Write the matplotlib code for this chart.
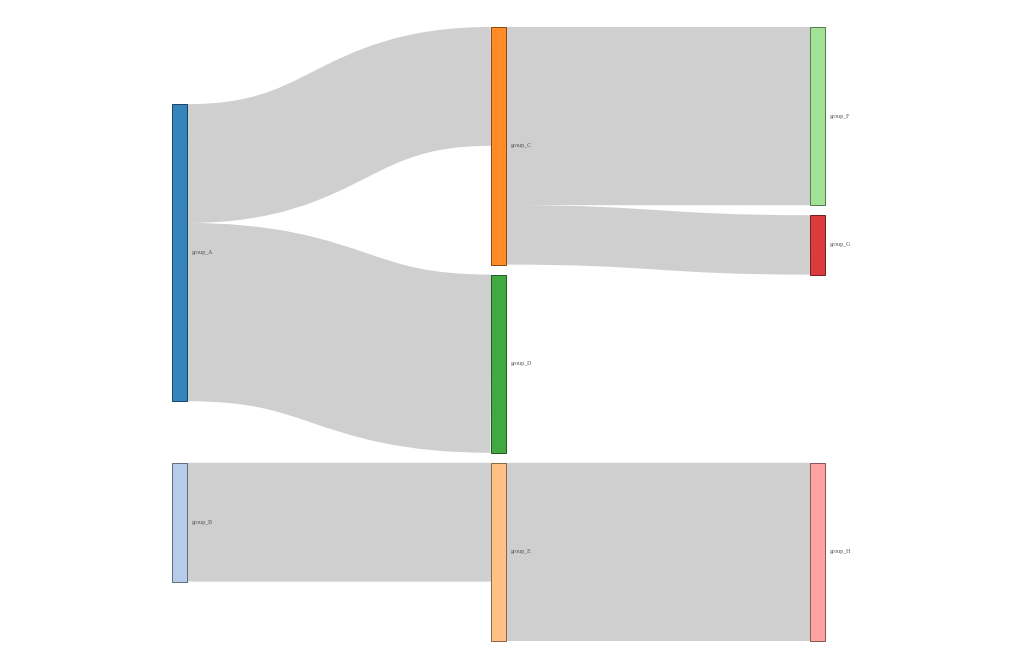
import matplotlib
matplotlib.use("Agg")
import matplotlib.pyplot as plt
from matplotlib.path import Path
from matplotlib.patches import PathPatch, Rectangle
from matplotlib.colors import to_rgb

# ---------------- data ----------------
link_sources = ["group_A", "group_A", "group_B", "group_C", "group_C", "group_E"]
link_targets = ["group_C", "group_D", "group_E", "group_F", "group_G", "group_H"]
link_values = [2, 3, 2, 3, 1, 3]
node_names = list(dict.fromkeys(link_sources + link_targets))  # A, B, C, E, D, F, G, H
palette = ["#1f77b4", "#aec7e8", "#ff7f0e", "#ffbb78", "#2ca02c", "#98df8a",
           "#d62728", "#ff9896", "#9467bd", "#c5b0d5"]

# ---------------- sankey layout (port of d3-sankey) ----------------
X0, Y0, X1, Y1 = 172, 27, 825, 641
NODE_W = 15
PAD = 10
ITER = 32

nodes = [dict(name=n, index=i, color=palette[i], sourceLinks=[], targetLinks=[])
         for i, n in enumerate(node_names)]
by_name = {n["name"]: n for n in nodes}
links = []
for i, (s, t, v) in enumerate(zip(link_sources, link_targets, link_values)):
    l = dict(source=by_name[s], target=by_name[t], value=v, index=i)
    links.append(l)
    l["source"]["sourceLinks"].append(l)
    l["target"]["targetLinks"].append(l)

for n in nodes:
    n["value"] = max(sum(l["value"] for l in n["sourceLinks"]),
                     sum(l["value"] for l in n["targetLinks"]))

current = list(nodes)
depth = 0
while current:
    nxt = []
    for n in current:
        n["layer"] = depth
        for l in n["sourceLinks"]:
            if l["target"] not in nxt:
                nxt.append(l["target"])
    depth += 1
    current = nxt

ncol = depth
kx = (X1 - X0 - NODE_W) / (ncol - 1)
columns = [[] for _ in range(ncol)]
for n in nodes:
    n["x0"] = X0 + n["layer"] * kx
    n["x1"] = n["x0"] + NODE_W
    columns[n["layer"]].append(n)

py = PAD


def key_t(l):
    return (l["target"].get("y0", 0), l["index"])


def key_s(l):
    return (l["source"].get("y0", 0), l["index"])


def reorder_node_links(n):
    for l in n["targetLinks"]:
        l["source"]["sourceLinks"].sort(key=key_t)
    for l in n["sourceLinks"]:
        l["target"]["targetLinks"].sort(key=key_s)


ky = min((Y1 - Y0 - (len(c) - 1) * py) / sum(n["value"] for n in c) for c in columns)
for col in columns:
    y = Y0
    for n in col:
        n["y0"] = y
        n["y1"] = y + n["value"] * ky
        y = n["y1"] + py
        for l in n["sourceLinks"]:
            l["width"] = l["value"] * ky
    y = (Y1 - y + py) / (len(col) + 1)
    for i, n in enumerate(col):
        n["y0"] += y * (i + 1)
        n["y1"] += y * (i + 1)
    for n in col:
        n["sourceLinks"].sort(key=key_t)
        n["targetLinks"].sort(key=key_s)


def target_top(source, target):
    y = source["y0"] - (len(source["sourceLinks"]) - 1) * py / 2
    for l in source["sourceLinks"]:
        if l["target"] is target:
            break
        y += l["width"] + py
    for l in target["targetLinks"]:
        if l["source"] is source:
            break
        y -= l["width"]
    return y


def source_top(source, target):
    y = target["y0"] - (len(target["targetLinks"]) - 1) * py / 2
    for l in target["targetLinks"]:
        if l["source"] is source:
            break
        y += l["width"] + py
    for l in source["sourceLinks"]:
        if l["target"] is target:
            break
        y -= l["width"]
    return y


def collide_down(col, y, i, a):
    while i < len(col):
        n = col[i]
        d = (y - n["y0"]) * a
        if d > 1e-6:
            n["y0"] += d
            n["y1"] += d
        y = n["y1"] + py
        i += 1


def collide_up(col, y, i, a):
    while i >= 0:
        n = col[i]
        d = (n["y1"] - y) * a
        if d > 1e-6:
            n["y0"] -= d
            n["y1"] -= d
        y = n["y0"] - py
        i -= 1


def resolve(col, a):
    i = len(col) >> 1
    s = col[i]
    collide_up(col, s["y0"] - py, i - 1, a)
    collide_down(col, s["y1"] + py, i + 1, a)
    collide_up(col, Y1, len(col) - 1, a)
    collide_down(col, Y0, 0, a)


for it in range(ITER):
    alpha = 0.99 ** it
    beta = max(1 - alpha, (it + 1) / ITER)
    for ci in range(ncol - 2, -1, -1):
        col = columns[ci]
        for src in col:
            yy = w = 0
            for l in src["sourceLinks"]:
                v = l["value"] * (l["target"]["layer"] - src["layer"])
                yy += source_top(src, l["target"]) * v
                w += v
            if w > 0:
                d = (yy / w - src["y0"]) * alpha
                src["y0"] += d
                src["y1"] += d
                reorder_node_links(src)
        col.sort(key=lambda n: n["y0"])
        resolve(col, beta)
    for ci in range(1, ncol):
        col = columns[ci]
        for tgt in col:
            yy = w = 0
            for l in tgt["targetLinks"]:
                v = l["value"] * (tgt["layer"] - l["source"]["layer"])
                yy += target_top(l["source"], tgt) * v
                w += v
            if w > 0:
                d = (yy / w - tgt["y0"]) * alpha
                tgt["y0"] += d
                tgt["y1"] += d
                reorder_node_links(tgt)
        col.sort(key=lambda n: n["y0"])
        resolve(col, beta)

for n in nodes:
    n["sourceLinks"].sort(key=key_t)
    n["targetLinks"].sort(key=key_s)
for n in nodes:
    a = b = n["y0"]
    for l in n["sourceLinks"]:
        l["y0"] = a + l["width"] / 2
        a += l["width"]
    for l in n["targetLinks"]:
        l["y1"] = b + l["width"] / 2
        b += l["width"]

# ---------------- drawing ----------------
fig = plt.figure(figsize=(10.24, 6.66), dpi=100)
ax = fig.add_axes([0, 0, 1, 1])
ax.set_xlim(0, 1024)
ax.set_ylim(666, 0)
ax.axis("off")
PT = 72 / 100

for l in sorted(links, key=lambda l: -l["width"]):
    xa = l["source"]["x1"]
    xb = l["target"]["x0"]
    xm = (xa + xb) / 2
    verts = [(xa, l["y0"]), (xm, l["y0"]), (xm, l["y1"]), (xb, l["y1"])]
    p = Path(verts, [Path.MOVETO, Path.CURVE4, Path.CURVE4, Path.CURVE4])
    ax.add_patch(PathPatch(p, facecolor="none", edgecolor=(0, 0, 0, 0.19),
                           linewidth=l["width"] * PT, capstyle="butt", zorder=1))

for n in nodes:
    r, g, b = to_rgb(n["color"])
    dark = (r * 0.49, g * 0.49, b * 0.49)
    ax.add_patch(Rectangle((n["x0"], n["y0"]), n["x1"] - n["x0"], n["y1"] - n["y0"],
                           facecolor=(r, g, b), edgecolor=dark, alpha=0.9,
                           linewidth=1 * PT, zorder=2))
    ax.text(n["x1"] + 5, (n["y0"] + n["y1"]) / 2, n["name"], fontsize=6 * PT,
            family="Liberation Serif", color="#555555", va="center", ha="left", zorder=3)

fig.savefig("out.png", dpi=100)
